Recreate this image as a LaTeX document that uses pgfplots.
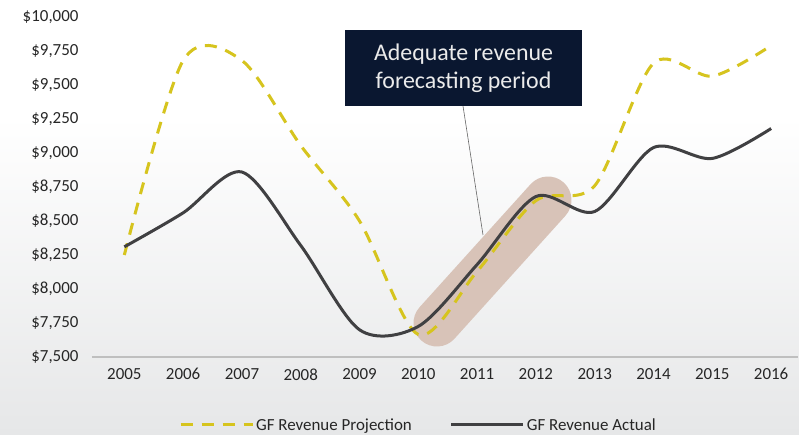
\documentclass[border=0pt]{standalone}
\usepackage{pgfplots}
\pgfplotsset{compat=1.18}
\usepackage{fontspec}
\setmainfont{Carlito}
\definecolor{projc}{RGB}{214,196,30}
\definecolor{actc}{RGB}{64,64,66}
\definecolor{navy}{RGB}{10,23,48}
\definecolor{bandc}{RGB}{216,195,184}
\definecolor{bggray}{RGB}{230,231,232}
\begin{document}
\begin{tikzpicture}[x=1bp,y=1bp]
% background
\fill[white] (-92,240) rectangle (707,357);
\shade[top color=white, bottom color=bggray] (-92,-78) rectangle (707,240.5);
% highlight band
\draw[bandc, line width=47bp, line cap=round] (345,34) -- (456,157);
\begin{axis}[
  scale only axis, width=705.6bp, height=340bp,
  xmin=2004.45, xmax=2016.45, ymin=7500, ymax=10000,
  axis lines=left, axis line style={-},
  y axis line style={draw=none},
  x axis line style={draw=black!25, line width=1.5bp},
  major tick length=0pt,
  xtick={2005,...,2016}, ytick={7500,7750,...,10000},
  tick label style={font=\fontsize{17}{20}\selectfont, text=black!85},
  x tick label style={/pgf/number format/1000 sep={}, yshift=-8bp},
  y tick label style={xshift=-10bp},
  yticklabel={\$\pgfmathprintnumber[fixed,1000 sep={,}]{\tick}},
  /pgf/number format/assume math mode=true,
  scaled y ticks=false,
  clip=false,
  legend style={draw=none, fill=none, at={(axis description cs:0.4627,-0.2)}, anchor=center,
    font=\fontsize{17}{20}\selectfont, text=black!85, /tikz/every even column/.append style={column sep=36bp}},
  legend columns=2,
  legend image code/.code={\draw[#1] (0bp,0bp) -- (72bp,0bp);},
]
\addplot[projc, line width=3bp, dash pattern=on 12bp off 9bp, smooth] coordinates {
 (2005,8250) (2006,9680) (2007,9680) (2008,9055) (2009,8500) (2010,7665)
 (2011,8130) (2012,8650) (2013,8760) (2014,9660) (2015,9565) (2016,9790)};
\addlegendentry{GF Revenue Projection}
\addplot[actc, line width=3bp, smooth] coordinates {
 (2005,8310) (2006,8560) (2007,8860) (2008,8320) (2009,7700) (2010,7725)
 (2011,8180) (2012,8680) (2013,8570) (2014,9040) (2015,8960) (2016,9180)};
\addlegendentry{GF Revenue Actual}
\end{axis}
% annotation
\draw[black!60, line width=0.6bp] (371,251) -- (391,122);
\fill[navy] (253,251) rectangle (490,327);
\node[text=black!8, align=center, font=\fontsize{24}{28}\selectfont] at (371.5,289) {Adequate revenue\\forecasting period};
\pgfresetboundingbox
\useasboundingbox (-92,-78) rectangle (707,357);
\end{tikzpicture}
\end{document}
